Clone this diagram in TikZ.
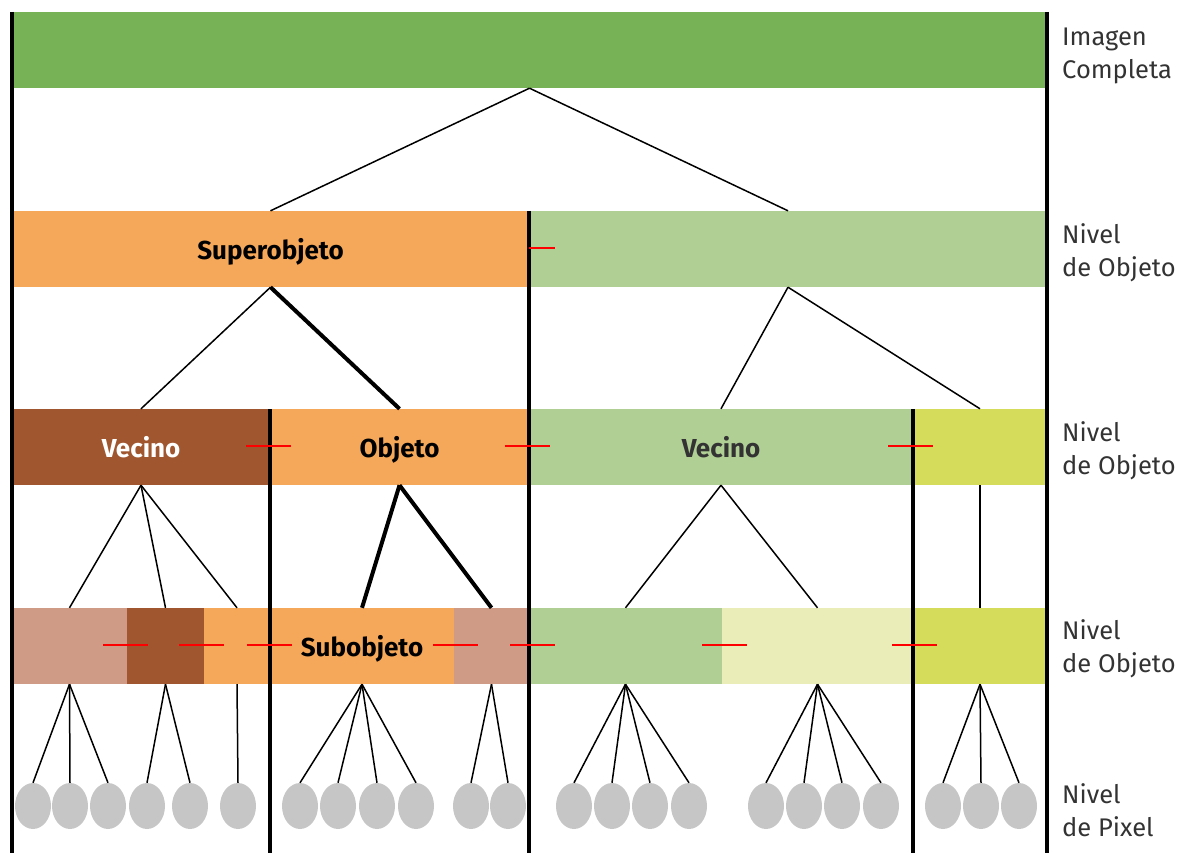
\documentclass[tikz,border=0pt]{standalone}
\usepackage{fontspec}
\setmainfont{Fira Sans}
\usetikzlibrary{shapes.geometric}

\definecolor{cTop}{HTML}{78B257}
\definecolor{cOrange}{HTML}{F6A85A}
\definecolor{cGreen}{HTML}{B0CF95}
\definecolor{cBrown}{HTML}{A0562F}
\definecolor{cLime}{HTML}{D5DC5C}
\definecolor{cPale}{HTML}{EAEDB8}
\definecolor{cPink}{HTML}{CF9B87}
\definecolor{cPix}{HTML}{C6C6C6}
\definecolor{cTxt}{HTML}{333333}

\tikzset{
  bar/.style={rectangle, inner sep=0pt, minimum height=76pt, text height=21pt, text depth=0pt,
    font=\bfseries\fontsize{26}{30}\selectfont},
  pix/.style={ellipse, fill=cPix, inner sep=0pt, minimum width=36pt, minimum height=46pt},
  lvl/.style={align=left, anchor=west, inner sep=0pt, text=cTxt, font=\fontsize{25.5}{33}\selectfont},
  sep/.style={line width=4pt},
  link/.style={line width=1.5pt},
  boldlink/.style={line width=4pt},
  redtick/.style={draw=red, line width=2pt}
}

\begin{document}
\begin{tikzpicture}[x=1pt,y=-1pt]
	\useasboundingbox (0,0) rectangle (1179,853);

	% levels
	\node[bar, fill=cTop, minimum width=1035pt] (img) at (529.5,50) {};

	\node[bar, fill=cOrange, minimum width=517pt] (sup) at (270.5,249) {Superobjeto};
	\node[bar, fill=cGreen, minimum width=518pt] (nb) at (788,249) {};

	\node[bar, fill=cBrown, minimum width=258pt, text=white] (vec1) at (141,447) {Vecino};
	\node[bar, fill=cOrange, minimum width=259pt] (obj) at (399.5,447) {Objeto};
	\node[bar, fill=cGreen, minimum width=384pt, text=cTxt] (vec2) at (721,447) {Vecino};
	\node[bar, fill=cLime, minimum width=134pt] (ys) at (980,447) {};

	\node[bar, fill=cPink, minimum width=115pt] (p1) at (69.5,646) {};
	\node[bar, fill=cBrown, minimum width=77pt] (p2) at (165.5,646) {};
	\node[bar, fill=cOrange, minimum width=66pt] (p3) at (237,646) {};
	\node[bar, fill=cOrange, minimum width=184pt] (p4) at (362,646) {Subobjeto};
	\node[bar, fill=cPink, minimum width=75pt] (p5) at (491.5,646) {};
	\node[bar, fill=cGreen, minimum width=193pt] (p6) at (625.5,646) {};
	\node[bar, fill=cPale, minimum width=191pt] (p7) at (817.5,646) {};
	\node[bar, fill=cLime, minimum width=134pt] (p8) at (980,646) {};

	% pixels
	\foreach \x [count=\i] in {33,70,108,147,190,238,300,338,377,416,471,508,574,612,650,689,766,804,842,881,943,981,1019}
		\node[pix] (px\i) at (\x,806) {};

	% tree
	\draw[link] (img.south) -- (sup.north);
	\draw[link] (img.south) -- (nb.north);
	\draw[link] (sup.south) -- (vec1.north);
	\draw[boldlink] (sup.south) -- (obj.north);
	\draw[link] (nb.south) -- (vec2.north);
	\draw[link] (nb.south) -- (ys.north);
	\foreach \p in {p1,p2,p3}
		\draw[link] (vec1.south) -- (\p.north);
	\foreach \p in {p4,p5}
		\draw[boldlink] (obj.south) -- (\p.north);
	\foreach \p in {p6,p7}
		\draw[link] (vec2.south) -- (\p.north);
	\draw[link] (ys.south) -- (p8.north);
	\foreach \i/\p in {1/p1,2/p1,3/p1,4/p2,5/p2,6/p3,7/p4,8/p4,9/p4,10/p4,11/p5,12/p5,13/p6,14/p6,15/p6,16/p6,17/p7,18/p7,19/p7,20/p7,21/p8,22/p8,23/p8}
		\draw[link] (\p.south) -- (px\i.north);

	% borders
	\draw[sep] (12,12) -- (12,853);
	\draw[sep] (1047,12) -- (1047,853);
	\draw[sep] (529,211) -- (529,853);
	\draw[sep] (270,409) -- (270,853);
	\draw[sep] (913,409) -- (913,853);

	% neighbour marks
	\draw[redtick] (529,248) -- +(26,0);
	\foreach \x in {246,505,888}
		\draw[redtick] (\x,446) -- +(45,0);
	\foreach \x in {103,179,247,433,510,702,892}
		\draw[redtick] (\x,645) -- +(45,0);

	% level names
	\node[lvl] (l0) at (1062,56) {Imagen\\Completa};
	\node[lvl] (l1) at (1062,253) {Nivel\\de Objeto};
	\node[lvl] (l2) at (1062,451) {Nivel\\de Objeto};
	\node[lvl] (l3) at (1062,649) {Nivel\\de Objeto};
	\node[lvl] (l4) at (1062,810) {Nivel\\de Pixel};
\end{tikzpicture}
\end{document}
